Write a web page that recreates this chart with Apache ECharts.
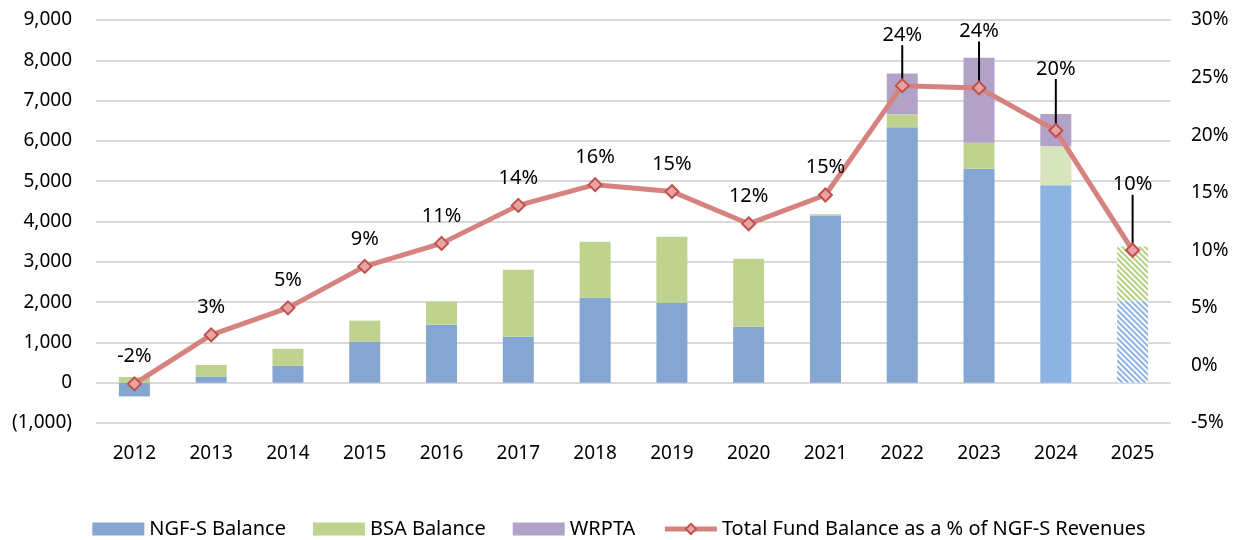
<!DOCTYPE html>
<html lang="en">
  <head>
    <meta charset="UTF-8" />
    <title>Fund Balances</title>
    <script src="https://cdn.jsdelivr.net/npm/echarts@6/dist/echarts.min.js"></script>
    <style>
      body{margin:0;padding:0;background:#fff;}
      #main{width:1238px;height:540px;}
    </style>
  </head>
  <body>
    <div id="main"></div>
    <script>
      // values ($ millions, % for the line)
      var years = ['2012','2013','2014','2015','2016','2017','2018','2019','2020','2021','2022','2023','2024','2025'];
      var ngfs  = [-340, 155, 420, 1020, 1440, 1140, 2110, 1985, 1390, 4150, 6340, 5310, 4900, 2040];
      var bsa   = [140, 285, 420, 520, 570, 1660, 1390, 1635, 1685, 30, 320, 645, 970, 1340];
      var wrpta = [0, 0, 0, 0, 0, 0, 0, 0, 0, 0, 1010, 2110, 800, 0];
      var pct   = [-1.6, 2.65, 5.0, 8.6, 10.6, 13.9, 15.7, 15.1, 12.3, 14.8, 24.3, 24.1, 20.4, 10.0];

      var FONT = 'Noto Sans';
      var C_NGF = '#84A6D1', C_BSA = '#BFD28E', C_WR = '#B3A2C7', C_LINE = '#D6827F';

      // projected years get lighter / hatched fills
      function hatch(c) {
        return {
          color: '#fff',
          decal: {symbol: 'rect', symbolSize: 1, color: c, backgroundColor: '#fff',
                  dashArrayX: [1, 0], dashArrayY: [2, 2], rotation: Math.PI / 4}
        };
      }
      var ngfData = ngfs.map(function (v, i) {
        if (i === 12) return {value: v, itemStyle: {color: '#8DB3E2'}};
        if (i === 13) return {value: v, itemStyle: hatch('#8DB3E2')};
        return v;
      });
      var bsaData = bsa.map(function (v, i) {
        if (i === 12) return {value: v, itemStyle: {color: '#D7E4BD'}};
        if (i === 13) return {value: v, itemStyle: hatch('#B5CF80')};
        return v;
      });

      // labels pulled up with a leader line
      var leaderDy = {10: -23, 11: -29, 12: -34, 13: -38};
      var pctData = pct.map(function (v, i) {
        if (leaderDy[i] !== undefined) return {value: v, labelLine: {show: true}};
        return v;
      });

      var myChart = echarts.init(document.getElementById('main'));
      var option = {
        animation: false,
        textStyle: {fontFamily: FONT},
        grid: {left: 96, right: 67, top: 20, bottom: 117},
        legend: {
          top: 514, left: 'center', itemWidth: 52, itemHeight: 13, itemGap: 27,
          textStyle: {fontSize: 20, color: '#000', fontFamily: FONT},
          data: [
            {name: 'NGF-S Balance', icon: 'rect'},
            {name: 'BSA Balance', icon: 'rect'},
            {name: 'WRPTA', icon: 'rect'},
            {name: 'Total Fund Balance as a % of NGF-S Revenues',
             lineStyle: {width: 5, color: C_LINE}}
          ]
        },
        xAxis: {
          type: 'category', data: years,
          axisLine: {show: false}, axisTick: {show: false},
          axisLabel: {fontSize: 19, color: '#000', margin: 21}
        },
        yAxis: [
          {
            type: 'value', min: -1000, max: 9000, interval: 1000,
            axisLabel: {
              fontSize: 19, color: '#000', margin: 24,
              formatter: function (v) {
                var s = Math.abs(v).toLocaleString('en-US');
                return v < 0 ? '(' + s + ')' : s;
              }
            },
            splitLine: {lineStyle: {color: '#D9D9D9', width: 2}}
          },
          {
            type: 'value', min: -5, max: 30, interval: 5,
            splitLine: {show: false},
            axisLabel: {fontSize: 19, color: '#000', margin: 20, formatter: '{value}%'}
          }
        ],
        series: [
          {name: 'NGF-S Balance', type: 'bar', stack: 'fund', barWidth: 31,
           itemStyle: {color: C_NGF}, data: ngfData},
          {name: 'BSA Balance', type: 'bar', stack: 'fund', barWidth: 31,
           itemStyle: {color: C_BSA}, data: bsaData},
          {name: 'WRPTA', type: 'bar', stack: 'fund', barWidth: 31,
           itemStyle: {color: C_WR}, data: wrpta},
          {
            name: 'Total Fund Balance as a % of NGF-S Revenues', type: 'line', yAxisIndex: 1,
            data: pctData, symbol: 'diamond', symbolSize: 13,
            lineStyle: {color: C_LINE, width: 5},
            itemStyle: {color: '#E7A3A1', borderColor: '#C0504D', borderWidth: 2},
            label: {
              show: true, position: 'top', distance: 10, fontSize: 20, color: '#000',
              formatter: function (p) { return Math.round(p.value) + '%'; }
            },
            labelLine: {show: false, lineStyle: {color: '#000', width: 2}},
            labelLayout: function (p) {
              if (leaderDy[p.dataIndex] !== undefined) return {dy: leaderDy[p.dataIndex]};
              return {};
            },
            z: 5
          }
        ]
      };
      myChart.setOption(option);
    </script>
  </body>
</html>
